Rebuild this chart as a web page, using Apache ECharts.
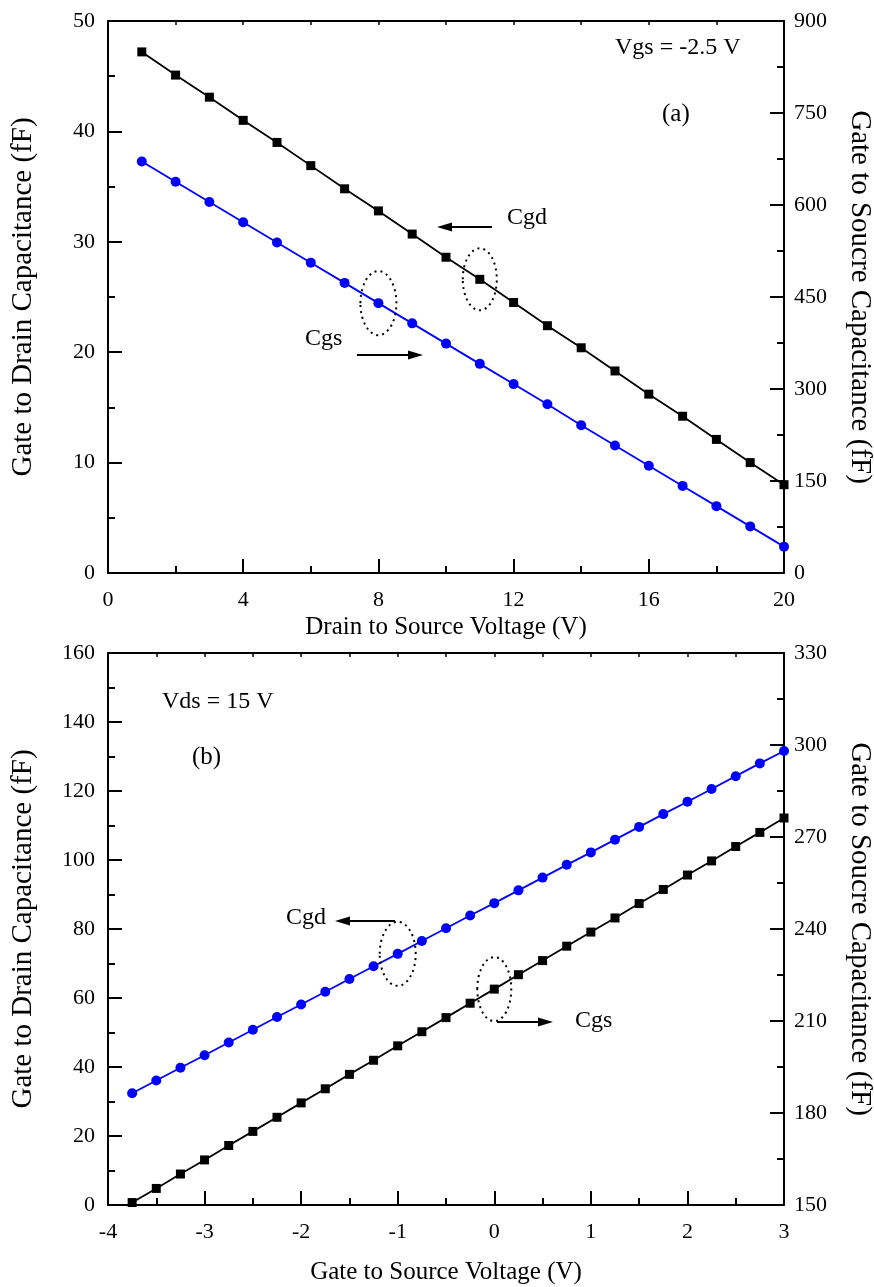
<!DOCTYPE html>
<html>
<head>
<meta charset="utf-8">
<script src="https://cdn.jsdelivr.net/npm/echarts@6/dist/echarts.min.js"></script>
<style>html,body{margin:0;padding:0;background:#fff;}#c{width:874px;height:1287px;}</style>
</head>
<body>
<div id="c"></div>
<script>
// Panel (a): Vgs = -2.5 V
const vdsA = [1,2,3,4,5,6,7,8,9,10,11,12,13,14,15,16,17,18,19,20];
const cgdA = [47.2,45.1,43.1,41.0,39.0,36.9,34.8,32.8,30.7,28.6,26.6,24.5,22.4,20.4,18.3,16.2,14.2,12.1,10.0,8.0];
const cgsA = [671,638,605,572,539,506,473,440,407,374,341,308,275,241,208,175,142,109,76,43];
// Panel (b): Vds = 15 V
const vgsB = [-3.75,-3.5,-3.25,-3,-2.75,-2.5,-2.25,-2,-1.75,-1.5,-1.25,-1,-0.75,-0.5,-0.25,0,0.25,0.5,0.75,1,1.25,1.5,1.75,2,2.25,2.5,2.75,3];
const cgdB = [32.4,36.1,39.8,43.4,47.1,50.8,54.5,58.1,61.8,65.5,69.2,72.8,76.5,80.2,83.9,87.5,91.2,94.9,98.6,102.2,105.9,109.6,113.3,116.9,120.6,124.3,128.0,131.6];
const cgsB = [150.8,155.4,160.1,164.7,169.4,174.0,178.6,183.3,187.9,192.6,197.2,201.9,206.5,211.1,215.8,220.4,225.1,229.7,234.4,239.0,243.6,248.3,252.9,257.6,262.2,266.9,271.5,276.2];

const FONT = '"Liberation Serif", "DejaVu Serif", serif';
const TICK_FS = 22, XNAME_FS = 25, YNAME_FS = 29, ANN_FS = 24;
const chart = echarts.init(document.getElementById('c'), null, {renderer: 'canvas'});

function zip(xs, ys){ return xs.map((x,i)=>[x, ys[i]]); }

const lineStyleAxis = {color:'#000', width:2};
function yAx(gridIndex, pos, min, max, interval, name, nameGap, nameRotate){
  return {
    type:'value', gridIndex, position:pos, min, max, interval,
    name, nameLocation:'middle', nameGap, nameRotate,
    nameTextStyle:{fontFamily:FONT, fontSize:YNAME_FS, color:'#000'},
    axisLine:{show:true, onZero:false, lineStyle:lineStyleAxis},
    axisTick:{show:true, inside:true, length:14, lineStyle:{color:'#000', width:2}},
    minorTick:{show:true, splitNumber:2, length:7, lineStyle:{color:'#000', width:2}},
    axisLabel:{fontFamily:FONT, fontSize:TICK_FS, color:'#000', margin:pos==='left'?13:10},
    splitLine:{show:false}
  };
}
function xAx(gridIndex, min, max, interval, name, nameGap){
  return {
    type:'value', gridIndex, position:'bottom', min, max, interval,
    name, nameLocation:'middle', nameGap,
    nameTextStyle:{fontFamily:FONT, fontSize:XNAME_FS, color:'#000'},
    axisLine:{show:true, onZero:false, lineStyle:lineStyleAxis},
    axisTick:{show:true, inside:true, length:14, lineStyle:{color:'#000', width:2}},
    minorTick:{show:true, splitNumber:2, length:7, lineStyle:{color:'#000', width:2}},
    axisLabel:{fontFamily:FONT, fontSize:TICK_FS, color:'#000', margin:16},
    splitLine:{show:false}
  };
}
function xTop(gridIndex, min, max, interval){
  return {
    type:'value', gridIndex, position:'top', min, max, interval,
    axisLine:{show:true, onZero:false, lineStyle:lineStyleAxis},
    axisTick:{show:true, inside:true, length:4, lineStyle:{color:'#000', width:1.5}},
    axisLabel:{show:false}, splitLine:{show:false}
  };
}

const option = {
  animation:false,
  backgroundColor:'#fff',
  grid:[
    {left:108, top:21, width:676, height:552, containLabel:false, outerBoundsMode:'none'},
    {left:108, top:653, width:676, height:552, containLabel:false, outerBoundsMode:'none'}
  ],
  xAxis:[
    xAx(0, 0, 20, 4, 'Drain to Source Voltage (V)', 42),
    xTop(0, 0, 20, 2),
    xAx(1, -4, 3, 1, 'Gate to Source Voltage (V)', 55),
    xTop(1, -4, 3, 0.5)
  ],
  yAxis:[
    yAx(0, 'left', 0, 50, 10, 'Gate to Drain Capacitance (fF)', 70, 90),
    yAx(0, 'right', 0, 900, 150, 'Gate to Soucre Capacitance (fF)', 61, -90),
    yAx(1, 'left', 0, 160, 20, 'Gate to Drain Capacitance (fF)', 70, 90),
    yAx(1, 'right', 150, 330, 30, 'Gate to Soucre Capacitance (fF)', 61, -90)
  ],
  series:[
    {type:'line', name:'Cgd (a)', xAxisIndex:0, yAxisIndex:0, data:zip(vdsA,cgdA),
     symbol:'rect', symbolSize:9, itemStyle:{color:'#000'}, lineStyle:{color:'#000', width:1.8}, clip:false},
    {type:'line', name:'Cgs (a)', xAxisIndex:0, yAxisIndex:1, data:zip(vdsA,cgsA),
     symbol:'circle', symbolSize:10, itemStyle:{color:'#0000ff'}, lineStyle:{color:'#0000ff', width:1.8}, clip:false},
    {type:'line', name:'Cgd (b)', xAxisIndex:2, yAxisIndex:2, data:zip(vgsB,cgdB),
     symbol:'circle', symbolSize:10, itemStyle:{color:'#0000ff'}, lineStyle:{color:'#0000ff', width:1.8}, clip:false},
    {type:'line', name:'Cgs (b)', xAxisIndex:2, yAxisIndex:3, data:zip(vgsB,cgsB),
     symbol:'rect', symbolSize:9, itemStyle:{color:'#000'}, lineStyle:{color:'#000', width:1.8}, clip:false}
  ]
};
chart.setOption(option);

// Annotations
function txt(x, y, s, fs){
  return {type:'text', x, y, style:{text:s, fill:'#000', font:(fs||ANN_FS) + 'px ' + FONT, textVerticalAlign:'middle', textAlign:'left'}, z:10};
}
function arrow(x1, x2, y){
  const dir = x2 > x1 ? 1 : -1;
  const hl = 15, hw = 4.5;
  return [
    {type:'line', shape:{x1, y1:y, x2:x2 - dir*hl*0.8, y2:y}, style:{stroke:'#000', lineWidth:1.8}, z:10},
    {type:'polygon', shape:{points:[[x2,y],[x2-dir*hl,y-hw],[x2-dir*hl,y+hw]]}, style:{fill:'#000'}, z:10}
  ];
}
function ell(p, rx, ry){
  return {type:'ellipse', shape:{cx:p[0], cy:p[1], rx, ry},
    style:{fill:'none', stroke:'#000', lineWidth:2, lineDash:[2,4]}, z:10};
}
const pA_cgd = chart.convertToPixel({xAxisIndex:0, yAxisIndex:0}, [vdsA[10], cgdA[10]]);
const pA_cgs = chart.convertToPixel({xAxisIndex:0, yAxisIndex:1}, [vdsA[7], cgsA[7]]);
const pB_cgd = chart.convertToPixel({xAxisIndex:2, yAxisIndex:2}, [vgsB[11], cgdB[11]]);
const pB_cgs = chart.convertToPixel({xAxisIndex:2, yAxisIndex:3}, [vgsB[15], cgsB[15]]);

const graphics = [
  txt(615, 48, 'Vgs = -2.5 V'),
  txt(662, 114, '(a)', 25),
  txt(507, 218, 'Cgd'),
  ...arrow(492, 437, 227),
  txt(305, 339, 'Cgs'),
  ...arrow(357, 423, 355),
  ell(pA_cgd, 17, 31),
  ell(pA_cgs, 18, 32),
  txt(162, 702, 'Vds = 15 V'),
  txt(192, 757, '(b)', 25),
  txt(286, 918, 'Cgd'),
  ...arrow(395, 335, 921),
  ell(pB_cgd, 18, 32),
  ell(pB_cgs, 17, 32),
  ...arrow(497, 553, 1022),
  txt(575, 1021, 'Cgs')
];
chart.setOption({graphic:graphics});
</script>
</body>
</html>
